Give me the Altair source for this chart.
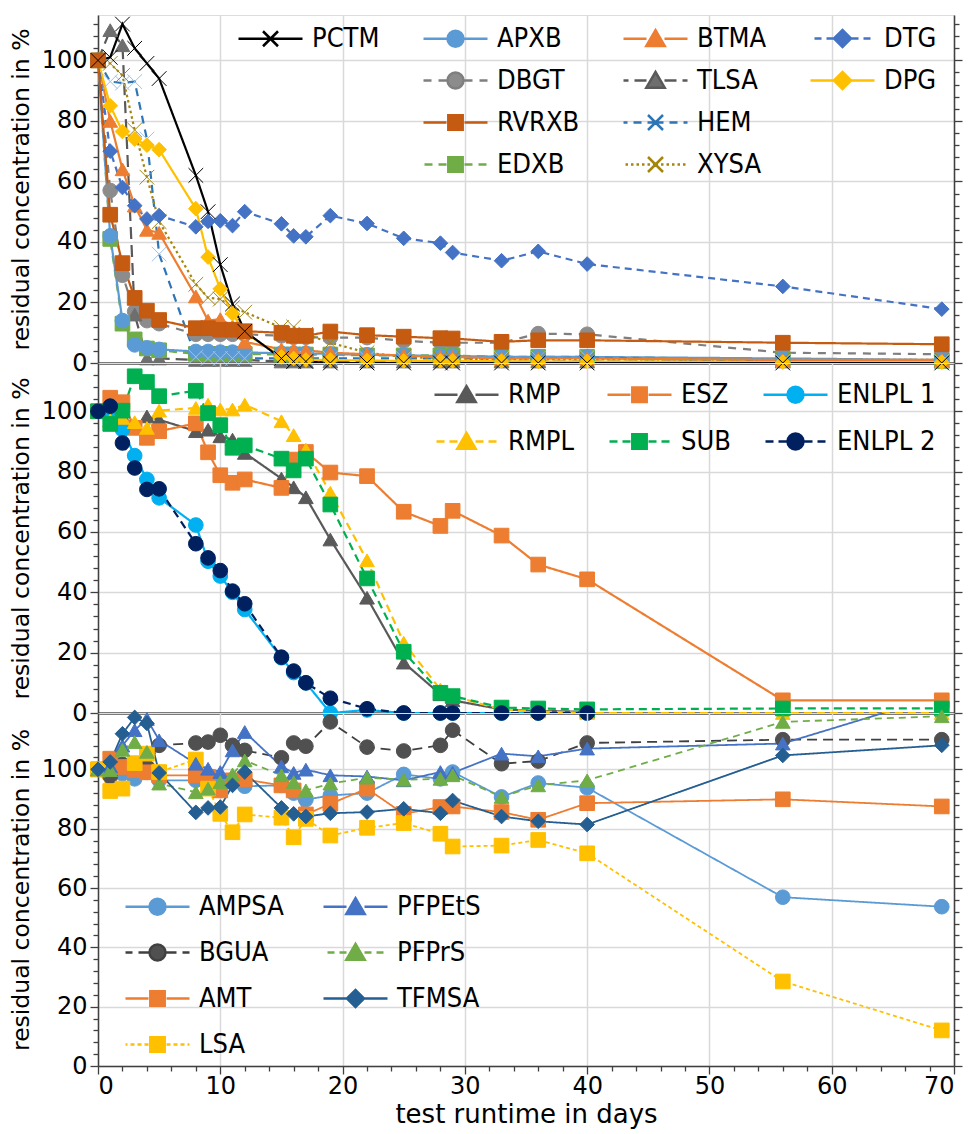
import altair as alt
import pandas as pd

DAYS = [0, 1, 2, 3, 4, 5, 8, 9, 10, 11, 12, 15, 16, 17, 19, 22, 25, 28, 29, 33, 36, 40, 56, 69]

# ---------------- top panel ----------------
PCTM  = [100, 101, 112, 104, 99, 94, 62, 50, 32.5, 19.5, 10.5, 1.5, 0.5, 0.5, 0, 0, 0, 0, 0, 0, 0, 0, 0, 0]
APXB  = [100, 42, 14, 6, 5, 4.5, 3.8, 3.8, 3.6, 3.6, 3.5, 3.2, 3.2, 3.2, 3.0, 2.7, 2.5, 2.3, 2.3, 2.1, 2.0, 2.0, 1.5, 1.0]
BTMA  = [100, 80, 64, 52, 44, 43, 22, 14, 14.5, 12, 7, 4.5, 4.5, 4.2, 3.4, 2.9, 2.5, 2.0, 2.0, 1.5, 1.5, 1.5, 1.0, 1.0]
DTG   = [100, 70, 58, 52, 47.6, 48.7, 45, 46.8, 47, 45.4, 50, 46, 42, 41.7, 48.7, 46.1, 41.2, 39.6, 36.5, 33.8, 36.9, 32.7, 25.3, 17.8]
DBGT  = [100, 57, 29, 17, 14, 13, 9.5, 9.5, 9.5, 9.5, 9.5, 9, 8.5, 8.5, 8.4, 8.4, 7.3, 6.7, 6.7, 6.7, 9.7, 9.5, 3.4, 2.9]
TLSA  = [100, 110, 105, 16, 1.5, 1.5, 1, 1, 1, 1, 1, 0.5, 0.5, 0.5, 0.5, 0.5, 0.5, 0.5, 0.5, 0.5, 0.5, 0.5, 0.5, 0.5]
DPG   = [100, 85, 76.5, 74, 72, 70.5, 51, 35, 24.5, 16.3, 10, 2, 1.5, 1, 1, 0.8, 0.7, 0.7, 0.7, 0.6, 0.5, 0.5, 0.3, 0.3]
RVRXB = [100, 49, 33, 21.5, 17.3, 14.2, 11.5, 11.5, 11, 11, 10.5, 10, 9, 9, 10.4, 9.2, 8.7, 8.2, 8.1, 7.0, 7.5, 7.5, 6.7, 6.2]
HEM   = [100, 93, 92.5, 93, 74, 36, 2, 1.5, 1.5, 1.5, 1.5, 1.5, 1.5, 1.5, 1.5, 1.5, 1.5, 1.5, 1.5, 1.5, 1.5, 1.8, 0.5, 0.5]
EDXB  = [100, 41, 13, 7.8, 4.8, 4.2, 3, 3, 3, 3, 3, 2.8, 2.8, 2.8, 2.8, 2.5, 2.5, 2.5, 2.5, 2.0, 2.0, 2.0, 1.2, 0.7]
XYSA  = [100, 99, 95, 77, 61.4, 46.7, 26, 21.6, 21.1, 18.3, 16.8, 11.7, 11.9, 9.5, 6.7, 3.4, 2.0, 1.5, 1.5, 1.2, 1.2, 1.2, 1.0, 1.0]

# ---------------- middle panel ----------------
RMP    = [100, 97, 98.3, 95, 98.3, 97.2, 93.4, 93.9, 91.7, 90.6, 86.2, 77.7, 74.8, 71.5, 57.5, 38.2, 16.7, 6.2, 4.2, 1.2, 0.7, 0.4, None, None]
ESZ    = [100, 104.5, 103, 94.5, 91.2, 93.4, 96, 86.4, 78.8, 76.3, 77.4, 74.6, 84, 86.5, 79.7, 78.5, 66.7, 62, 67, 58.8, 49.2, 44.3, 4.2, 4.2]
ENLPL1 = [100, 98.9, 93.9, 85.3, 77.4, 71.3, 62.3, 50.3, 45.4, 40, 34.3, 18.3, 13.4, 10, 0, 1.0, 0, 0, 0, 0, 0, 0, None, None]
RMPL   = [100, 97, 97.8, 96.4, 94.5, 100.2, 101.1, 102.2, 100.6, 100.6, 102.2, 96.7, 92.1, 87.3, 73, 50.6, 23.3, 7.8, 5.6, 1.2, 0.5, 0, 0, 0]
SUB    = [100, 95.8, 100.2, 111.6, 109.7, 105, 106.8, 99.4, 95.4, 87.9, 88.7, 84.3, 80.4, 84.3, 69.1, 44.6, 20.3, 6.7, 5.6, 1.8, 1.5, 1.2, 1.5, 1.5]
ENLPL2 = [100, 101.7, 89.5, 81.2, 74.1, 74.3, 56.1, 51.4, 47.2, 40.4, 36.2, 18.5, 13.9, 10, 4.9, 1.4, 0, 0, 0, 0, 0, 0, None, None]

# ---------------- bottom panel ----------------
AMPSA  = [100, 99.1, 98.5, 96.8, 99, 96.3, 96.3, 97.4, 96, 96, 94.3, 94.6, 92, 89.8, 91.2, 92, 98.3, 96.8, 99.1, 90.7, 95.4, 93.8, 56.9, 53.7]
BGUA   = [100, 97.6, 101.7, 100, 100.8, 108.1, 108.9, 109.2, 111.5, 108.1, 106.4, 103.9, 108.9, 107.8, 116, 107.5, 106.2, 108.1, 113.2, 101.9, 102.8, 108.9, 110, 110]
AMT    = [100, 103.6, 100.8, 99.7, 99, 98, 98, 97.4, 92.9, 96.3, 96.6, 94.6, 92.9, 84.8, 88.4, 93.5, 85, 87.3, 87.5, 85.6, 83, 88.6, 89.9, 87.5]
LSA    = [100, 92.7, 93.5, 102.1, 105.3, 99.1, 103.3, 93.5, 85, 78.8, 84.8, 83.7, 77.1, 83.3, 77.7, 80.3, 81.9, 78.3, 74, 74.3, 76.2, 71.7, 28.5, 12]
PFPEtS = [100, 101, 108, 113.2, 117, 109.8, 101.9, 100.2, 99.1, 106.4, 112.6, 101, 98.8, 99.9, 98, 97.6, 96.3, 99.1, 98.8, 105.3, 104.4, 107, 108.7, 125]
PFPrS  = [100, 99.7, 106.6, 109.2, 105.9, 95.2, 92.3, 93.5, 95.7, 98.3, 103, 98, 95.7, 92.9, 95.2, 97.2, 96.5, 96.8, 98, 90.7, 94.6, 96.3, 116, 117.9]
TFMSA  = [100, 102.5, 112, 117.5, 115.5, 98.8, 85.5, 87, 87.3, 94.6, 99.1, 87, 85, 84.1, 85.2, 85.6, 86.7, 85.2, 89.5, 84.1, 82.5, 81.4, 104.7, 108.1]

NUM_FONT = "DejaVu Sans"
LEG_FONT = "Liberation Sans Narrow, DejaVu Sans Condensed, sans-serif"
GRID = "#D9D9D9"
AX = "#404040"
NB = "\u00a0"

# style per series: (line color, marker color, marker, dash, line width)
TOP_STYLE = {
    "PCTM":  ("#000000", "#000000", "x", None, 3.5),
    "APXB":  ("#5B9BD5", "#5B9BD5", "circle", None, 4.0),
    "BTMA":  ("#ED7D31", "#ED7D31", "triangle", None, 2.2),
    "DTG":   ("#4472C4", "#4472C4", "diamond", [7, 5], 2.0),
    "DBGT":  ("#7F7F7F", "#8C8C8C", "circle", [8, 7], 2.2),
    "TLSA":  ("#595959", "#6E6E6E", "triangle", [12, 6], 2.2),
    "DPG":   ("#FFC000", "#FFC000", "diamond", None, 2.2),
    "RVRXB": ("#C55A11", "#C55A11", "square", None, 2.5),
    "HEM":   ("#2E75B6", "#9DC3E6", "x", [8, 6], 2.2),
    "EDXB":  ("#70AD47", "#70AD47", "square", [8, 6], 2.2),
    "XYSA":  ("#A5850C", "#A5850C", "x", [2.5, 3], 2.5),
}
TOP_DATA = {"PCTM": PCTM, "APXB": APXB, "BTMA": BTMA, "DTG": DTG, "DBGT": DBGT, "TLSA": TLSA,
            "DPG": DPG, "RVRXB": RVRXB, "HEM": HEM, "EDXB": EDXB, "XYSA": XYSA}
TOP_DRAW = ["DBGT", "TLSA", "EDXB", "APXB", "HEM", "XYSA", "BTMA", "DPG", "DTG", "RVRXB", "PCTM"]
# legend entries are laid out column by column (blank entries keep cells empty)
TOP_LEGEND = ["PCTM", NB, NB * 2, NB * 3, "APXB", "DBGT", "RVRXB", "EDXB",
              "BTMA", "TLSA", "HEM", "XYSA", "DTG", "DPG", NB * 4]

MID_STYLE = {
    "RMP":     ("#595959", "#595959", "triangle", None, 2.2),
    "ESZ":     ("#ED7D31", "#ED7D31", "square", None, 2.2),
    "ENLPL 1": ("#00B0F0", "#00B0F0", "circle", None, 2.5),
    "RMPL":    ("#FFC000", "#FFC000", "triangle", [8, 5], 2.2),
    "SUB":     ("#00B050", "#00B050", "square", [8, 5], 2.2),
    "ENLPL 2": ("#002060", "#002060", "circle", [8, 5], 2.2),
}
MID_DATA = {"RMP": RMP, "ESZ": ESZ, "ENLPL 1": ENLPL1, "RMPL": RMPL, "SUB": SUB, "ENLPL 2": ENLPL2}
MID_DRAW = ["RMP", "ESZ", "ENLPL 1", "RMPL", "SUB", "ENLPL 2"]
MID_LEGEND = ["RMP", "RMPL", "ESZ", "SUB", "ENLPL 1", "ENLPL 2"]

BOT_STYLE = {
    "AMPSA":  ("#5B9BD5", "#5B9BD5", "circle", None, 1.8),
    "BGUA":   ("#404040", "#505050", "circle", [10, 6], 1.8),
    "AMT":    ("#ED7D31", "#ED7D31", "square", None, 1.8),
    "LSA":    ("#FFC000", "#FFC000", "square", [4, 3], 1.8),
    "PFPEtS": ("#4472C4", "#4472C4", "triangle", None, 1.8),
    "PFPrS":  ("#70AD47", "#70AD47", "triangle", [7, 5], 1.8),
    "TFMSA":  ("#255E91", "#255E91", "diamond", None, 1.8),
}
BOT_DATA = {"AMPSA": AMPSA, "BGUA": BGUA, "AMT": AMT, "LSA": LSA, "PFPEtS": PFPEtS, "PFPrS": PFPrS, "TFMSA": TFMSA}
BOT_DRAW = ["AMPSA", "BGUA", "AMT", "LSA", "PFPEtS", "PFPrS", "TFMSA"]
BOT_LEGEND = ["AMPSA", "BGUA", "AMT", "LSA", "PFPEtS", "PFPrS", "TFMSA"]

MARKER = {"circle": "circle", "square": "square", "triangle": "triangle-up", "diamond": "diamond",
          "x": "M-1,-1L1,1M-1,1L1,-1"}


def marker_sub(m):
    if m == "circle":
        r = 0.8
        return f"M{-r},0A{r},{r} 0 1,1 {r},0A{r},{r} 0 1,1 {-r},0Z"
    if m == "square":
        r = 0.72
        return f"M{-r},{-r}H{r}V{r}H{-r}Z"
    if m == "triangle":
        return "M0,-0.85L0.92,0.72H-0.92Z"
    if m == "diamond":
        r = 0.85
        return f"M{-r},0L0,{-r}L{r},0L0,{r}Z"
    r = 0.75
    return f"M{-r},{-r}L{r},{r}M{-r},{r}L{r},{-r}"


def seg(dash, a, b):
    if dash is None:
        return [(a, b)]
    on, off = dash[0] / 10.0, dash[1] / 10.0
    out, x = [], a
    while x < b - 1e-6:
        e = min(x + on, b)
        out.append((x, e))
        x = e + off
    return out


def legend_path(m, dash):
    inner = 0.0 if m == "x" else 0.9
    parts = []
    for (a, b) in seg(dash, inner, 3.2):
        parts.append(f"M{a:.2f},0H{b:.2f}")
        parts.append(f"M{-a:.2f},0H{-b:.2f}")
    return "".join(parts) + marker_sub(m)


def long_df(data, order):
    rows = []
    for k, name in enumerate(order):
        for d, v in zip(DAYS, data[name]):
            if v is not None:
                rows.append({"series": name, "day": d, "value": v, "k": k})
    return pd.DataFrame(rows)


def major(step):
    return f"datum.value % {step} == 0"


def panel(data, style, draw, legend_order, ymax, height, leg, bottom=False, clip=False):
    df = long_df(data, draw)
    names = list(draw)
    line_color = alt.Scale(domain=names, range=[style[n][0] for n in names])
    dash_scale = alt.Scale(domain=names, range=[style[n][3] if style[n][3] else [1, 0] for n in names])
    width_scale = alt.Scale(domain=names, range=[style[n][4] for n in names])
    mk_color = alt.Scale(domain=names, range=[style[n][1] for n in names])
    mk_shape = alt.Scale(domain=names, range=[MARKER[style[n][2]] for n in names])
    mk_sw = alt.Scale(domain=names, range=[2.6 if style[n][2] == "x" else 1.0 for n in names])

    yvals = list(range(0, ymax, 4))
    yscale = alt.Scale(domain=[0, ymax], nice=False, zero=True)
    xscale = alt.Scale(domain=[0, 70], nice=False)

    yaxis = alt.Axis(orient="left", values=yvals, labelExpr=f"{major(20)} ? datum.label : ''",
                     tickSize={"condition": {"test": major(20), "value": 8}, "value": 5},
                     gridOpacity={"condition": {"test": major(20), "value": 1}, "value": 0},
                     grid=True, gridColor=GRID, gridWidth=1.5,
                     domainColor=AX, domainWidth=1.5, tickColor=AX, tickWidth=1.3,
                     labelFont=NUM_FONT, labelFontSize=24, labelColor="black", labelPadding=3,
                     title="residual concentration in %", titleFont=NUM_FONT, titleFontSize=23.5,
                     titleFontWeight="normal", titleColor="black", titlePadding=8)
    if bottom:
        xaxis = alt.Axis(values=list(range(0, 71, 2)), labelExpr=f"{major(10)} ? datum.label : ''",
                         tickSize={"condition": {"test": major(10), "value": 8}, "value": 5},
                         gridOpacity={"condition": {"test": major(10), "value": 1}, "value": 0},
                         grid=True, gridColor=GRID, gridWidth=1.5,
                         domainColor=AX, domainWidth=1.5, tickColor=AX, tickWidth=1.3,
                         labelFont=NUM_FONT, labelFontSize=24, labelColor="black", labelPadding=0,
                         title="test runtime in days", titleFont=NUM_FONT, titleFontSize=26,
                         titleFontWeight="normal", titleColor="black", titlePadding=3)
    else:
        xaxis = alt.Axis(values=list(range(0, 71, 10)), labels=False, ticks=False, title=None,
                         grid=True, gridColor=GRID, gridWidth=1.5, domainColor="black", domainWidth=2)

    X = alt.X("day:Q", scale=xscale, axis=xaxis)
    Y = alt.Y("value:Q", scale=yscale, axis=yaxis)

    lines = alt.Chart(df).mark_line(clip=clip).encode(
        x=X, y=Y,
        color=alt.Color("series:N", scale=line_color, legend=None),
        strokeDash=alt.StrokeDash("series:N", scale=dash_scale, legend=None),
        strokeWidth=alt.StrokeWidth("series:N", scale=width_scale, legend=None),
        detail="series:N",
    )
    pts = alt.Chart(df).transform_filter(f"datum.value <= {ymax}").mark_point(
        size=215, opacity=1, fillOpacity=1).encode(
        x=X, y=alt.Y("value:Q", scale=yscale, axis=None),
        fill=alt.Fill("series:N", scale=mk_color, legend=None),
        stroke=alt.Stroke("series:N", scale=mk_color, legend=None),
        shape=alt.Shape("series:N", scale=mk_shape, legend=None),
        strokeWidth=alt.StrokeWidth("series:N", scale=mk_sw, legend=None),
        order=alt.Order("k:Q"),
    )

    lnames = list(legend_order)

    def sty(n, i):
        return style[n][i] if n in style else None
    leg_fill = alt.Scale(domain=lnames, range=[sty(n, 1) or "transparent" for n in lnames])
    leg_stroke = alt.Scale(domain=lnames, range=[sty(n, 0) or "transparent" for n in lnames])
    leg_shape = alt.Scale(domain=lnames, range=[legend_path(style[n][2], style[n][3]) if n in style
                                               else "M-3.2,0H3.2" for n in lnames])
    legend = alt.Legend(orient="none", legendX=leg["x"], legendY=leg["y"], columns=leg["cols"],
                        columnPadding=leg["colpad"], rowPadding=leg["rowpad"], symbolSize=400,
                        symbolStrokeWidth=2.5, labelFont=LEG_FONT, labelFontSize=27,
                        labelColor="black", labelOffset=leg["laboff"], title=None, padding=0,
                        labelLimit=0, gridAlign="each")
    yaxis_r = alt.Axis(orient="right", values=yvals, labels=False, title=None, grid=False,
                       tickSize={"condition": {"test": major(20), "value": 8}, "value": 5},
                       domainColor=AX, domainWidth=1.5, tickColor=AX, tickWidth=1.3)
    leg_layer = alt.Chart(df).transform_filter("datum.value > 100000").mark_point(
        opacity=1, fillOpacity=1).encode(
        x=X,
        y=alt.Y("value:Q", scale=yscale, axis=yaxis_r),
        fill=alt.Fill("series:N", scale=leg_fill, legend=legend),
        stroke=alt.Stroke("series:N", scale=leg_stroke, legend=legend),
        shape=alt.Shape("series:N", scale=leg_shape, legend=legend),
    )

    return alt.layer(lines, pts, leg_layer).resolve_scale(
        color="independent", fill="independent", stroke="independent", shape="independent",
        strokeDash="independent", strokeWidth="independent"
    ).resolve_axis(y="independent").properties(width=856, height=height)


top = panel(TOP_DATA, TOP_STYLE, TOP_DRAW, TOP_LEGEND, 115, 348,
            dict(x=159, y=10, cols=4, colpad=38, rowpad=14, laboff=28))
mid = panel(MID_DATA, MID_STYLE, MID_DRAW, MID_LEGEND, 116, 350,
            dict(x=355, y=18, cols=3, colpad=27, rowpad=19, laboff=28))
bot = panel(BOT_DATA, BOT_STYLE, BOT_DRAW, BOT_LEGEND, 119, 353,
            dict(x=46, y=180, cols=2, colpad=34, rowpad=18, laboff=28), bottom=True, clip=True)

chart = alt.vconcat(top, mid, bot, spacing=0, bounds="flush").resolve_scale(
    y="independent", color="independent", fill="independent", stroke="independent",
    shape="independent", strokeDash="independent", strokeWidth="independent"
).properties(
    padding={"left": 8, "top": 14, "right": 6, "bottom": 2}
).configure_view(stroke=AX, strokeWidth=1.5).configure(background="white")

chart.save("out.html", embed_options={"renderer": "svg", "actions": False})
